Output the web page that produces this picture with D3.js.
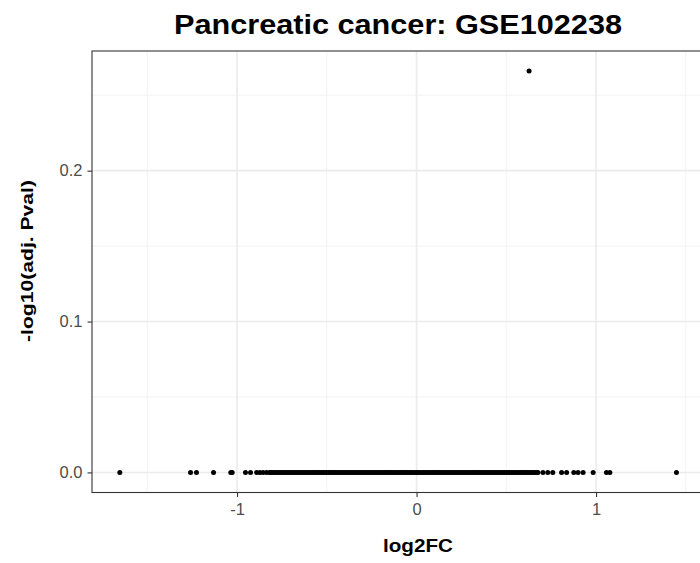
<!DOCTYPE html>
<html>
<head>
<meta charset="utf-8">
<script src="https://cdn.jsdelivr.net/npm/d3@7"></script>
<style>
  html, body { margin: 0; padding: 0; background: #fff; }
  svg { display: block; font-family: "Liberation Sans", Arial, Helvetica, sans-serif; }
</style>
</head>
<body>
<svg id="chart" width="700" height="563"></svg>
<script>
// Genes with -log10(adj. P) = 0, by log2 fold change
const flatLeftTail = [-1.653, -1.259, -1.226, -1.131, -1.035, -1.027, -0.953, -0.925, -0.891, -0.873, -0.855, -0.836];
const flatCore = [
  -0.82, -0.81, -0.80, -0.79, -0.78, -0.77, -0.76, -0.75, -0.74, -0.73,
  -0.72, -0.71, -0.70, -0.69, -0.68, -0.67, -0.66, -0.65, -0.64, -0.63,
  -0.62, -0.61, -0.60, -0.59, -0.58, -0.57, -0.56, -0.55, -0.54, -0.53,
  -0.52, -0.51, -0.50, -0.49, -0.48, -0.47, -0.46, -0.45, -0.44, -0.43,
  -0.42, -0.41, -0.40, -0.39, -0.38, -0.37, -0.36, -0.35, -0.34, -0.33,
  -0.32, -0.31, -0.30, -0.29, -0.28, -0.27, -0.26, -0.25, -0.24, -0.23,
  -0.22, -0.21, -0.20, -0.19, -0.18, -0.17, -0.16, -0.15, -0.14, -0.13,
  -0.12, -0.11, -0.10, -0.09, -0.08, -0.07, -0.06, -0.05, -0.04, -0.03,
  -0.02, -0.01, 0.00, 0.01, 0.02, 0.03, 0.04, 0.05, 0.06, 0.07,
  0.08, 0.09, 0.10, 0.11, 0.12, 0.13, 0.14, 0.15, 0.16, 0.17,
  0.18, 0.19, 0.20, 0.21, 0.22, 0.23, 0.24, 0.25, 0.26, 0.27,
  0.28, 0.29, 0.30, 0.31, 0.32, 0.33, 0.34, 0.35, 0.36, 0.37,
  0.38, 0.39, 0.40, 0.41, 0.42, 0.43, 0.44, 0.45, 0.46, 0.47,
  0.48, 0.49, 0.50, 0.51, 0.52, 0.53, 0.54, 0.55, 0.56, 0.57,
  0.58, 0.59, 0.60, 0.61, 0.62, 0.63, 0.64, 0.65, 0.66, 0.67
];
const flatRightTail = [0.676, 0.704, 0.731, 0.759, 0.808, 0.836, 0.876, 0.900, 0.928, 0.984, 1.058, 1.077, 1.448];

// The single gene above zero
const hitLog2FC = [0.627];
const hitNegLog10AdjP = [0.266];

const xTicks = [-1, 0, 1];
const xTickLabels = ["-1", "0", "1"];
const xMinor = [-1.5, -0.5, 0.5, 1.5];
const yTicks = [0, 0.1, 0.2];
const yTickLabels = ["0.0", "0.1", "0.2"];
const yMinor = [0.05, 0.15, 0.25];

const titleText = "Pancreatic cancer: GSE102238";
const xTitle = "log2FC";
const yTitle = "-log10(adj. Pval)";

const points = [
  ...flatLeftTail, ...flatCore, ...flatRightTail
].map(v => ({ x: v, y: 0 }))
 .concat(hitLog2FC.map((v, i) => ({ x: v, y: hitNegLog10AdjP[i] })));

const svg = d3.select("#chart");
const panel = { left: 92, right: 705, top: 51, bottom: 492.5 };

const x = d3.scaleLinear().domain([-1.808, 1.607]).range([panel.left, panel.right]);
const y = d3.scaleLinear().domain([-0.0133, 0.2793]).range([panel.bottom, panel.top]);

svg.append("rect").attr("width", 700).attr("height", 563).attr("fill", "#fff");

// grid
const grid = svg.append("g");
grid.selectAll(".xminor").data(xMinor).join("line")
  .attr("x1", d => x(d)).attr("x2", d => x(d))
  .attr("y1", panel.top).attr("y2", panel.bottom)
  .attr("stroke", "#F2F2F2").attr("stroke-width", 1);
grid.selectAll(".yminor").data(yMinor).join("line")
  .attr("y1", d => y(d)).attr("y2", d => y(d))
  .attr("x1", panel.left).attr("x2", panel.right)
  .attr("stroke", "#F2F2F2").attr("stroke-width", 1);
grid.selectAll(".xmajor").data(xTicks).join("line")
  .attr("x1", d => x(d)).attr("x2", d => x(d))
  .attr("y1", panel.top).attr("y2", panel.bottom)
  .attr("stroke", "#EBEBEB").attr("stroke-width", 1.6);
grid.selectAll(".ymajor").data(yTicks).join("line")
  .attr("y1", d => y(d)).attr("y2", d => y(d))
  .attr("x1", panel.left).attr("x2", panel.right)
  .attr("stroke", "#EBEBEB").attr("stroke-width", 1.6);

// points
svg.append("g").selectAll("circle").data(points).join("circle")
  .attr("cx", d => x(d.x)).attr("cy", d => y(d.y))
  .attr("r", 2.5).attr("fill", "#000");

// panel border
svg.append("rect")
  .attr("x", panel.left).attr("y", panel.top)
  .attr("width", panel.right - panel.left).attr("height", panel.bottom - panel.top)
  .attr("fill", "none").attr("stroke", "#333333").attr("stroke-width", 1.1);

// axes
const xAxis = d3.axisBottom(x).tickValues(xTicks).tickSize(4.5).tickPadding(6)
  .tickFormat((d, i) => xTickLabels[i]);
const gx = svg.append("g").attr("transform", `translate(0,${panel.bottom})`).call(xAxis);
const yAxis = d3.axisLeft(y).tickValues(yTicks).tickSize(4.5).tickPadding(5)
  .tickFormat((d, i) => yTickLabels[i]);
const gy = svg.append("g").attr("transform", `translate(${panel.left},0)`).call(yAxis);
[gx, gy].forEach(g => {
  g.attr("font-size", null).attr("font-family", null);
  g.select(".domain").remove();
  g.selectAll(".tick line").attr("stroke", "#333333").attr("stroke-width", 1.1);
  g.selectAll(".tick text").attr("fill", "#4D4D4D")
    .style("font-size", "16.5px").style("font-family", "'Liberation Sans', Arial, sans-serif");
});

// titles
svg.append("text").attr("x", 398).attr("y", 33.5).attr("text-anchor", "middle")
  .style("font-size", "27px").style("font-weight", "bold").attr("fill", "#000")
  .attr("textLength", 448).attr("lengthAdjust", "spacingAndGlyphs")
  .text(titleText);
svg.append("text").attr("x", 418).attr("y", 552).attr("text-anchor", "middle")
  .style("font-size", "18px").style("font-weight", "bold").attr("fill", "#000")
  .attr("textLength", 70).attr("lengthAdjust", "spacingAndGlyphs")
  .text(xTitle);
svg.append("text").attr("transform", "translate(33,261) rotate(-90)").attr("text-anchor", "middle")
  .style("font-size", "17px").style("font-weight", "bold").attr("fill", "#000")
  .attr("textLength", 162).attr("lengthAdjust", "spacingAndGlyphs")
  .text(yTitle);
</script>
</body>
</html>
